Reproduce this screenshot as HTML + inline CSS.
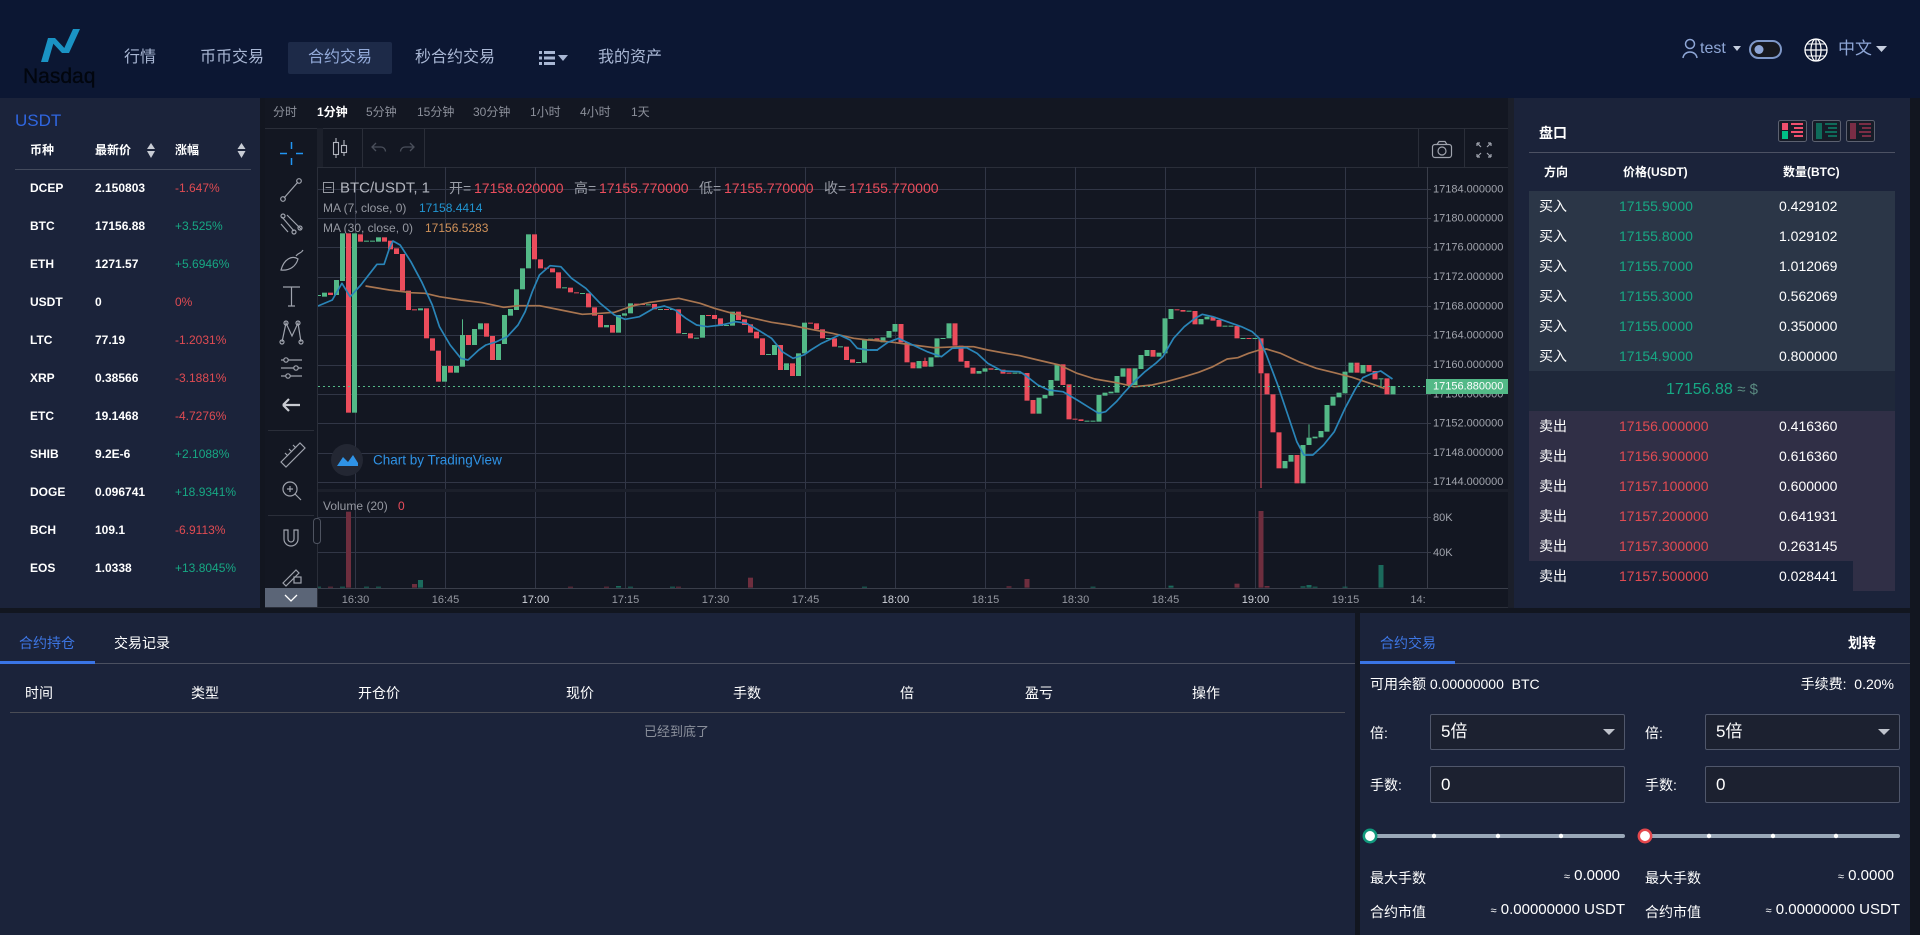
<!DOCTYPE html>
<html><head><meta charset="utf-8">
<style>
*{margin:0;padding:0;box-sizing:border-box}
html,body{width:1920px;height:935px;overflow:hidden;background:#121620;font-family:"Liberation Sans","Noto Sans CJK SC",sans-serif}
.a{position:absolute;white-space:nowrap}
.t{position:absolute;white-space:nowrap;height:20px;line-height:20px}
.nav{font-size:16px;color:#a9b7d4;top:48px}
.lp{font-size:12px;font-weight:bold;color:#fff}
.gr{color:#17a884}.rd{color:#e04b52}
.ob{font-size:14px}
.w{color:#fff}
svg text{font-family:"Liberation Sans","Noto Sans CJK SC",sans-serif}
.g{fill:#53b987}.r{fill:#eb4d5c}.vr{fill:#6e2e3e}.vg{fill:#1b6a5c}
</style></head><body>

<!-- header -->
<div class="a" style="left:0;top:0;width:1920px;height:98px;background:#0c1733"></div>
<svg class="a" style="left:0;top:0" width="100" height="98">
<polygon points="41,62 48,62 55,38 48,38" fill="#1a93c4"/>
<polygon points="48,38 55,38 69,53 62,53" fill="#1a93c4"/>
<polygon points="62,53 69,53 80,29 73,29" fill="#1a93c4"/>
</svg>
<div class="a" style="left:23px;top:65px;font-size:21px;line-height:24px;color:#02060e;font-weight:500;-webkit-text-stroke:0.3px #02060e">Nasdaq</div>
<div class="t nav" style="left:124px">行情</div>
<div class="t nav" style="left:200px">币币交易</div>
<div class="a" style="left:288px;top:42px;width:104px;height:32px;background:#1d2a48;border-radius:2px"></div>
<div class="t nav" style="left:308px;color:#93aad9">合约交易</div>
<div class="t nav" style="left:415px">秒合约交易</div>
<svg class="a" style="left:536px;top:48px" width="40" height="20">
<rect x="3" y="3" width="3" height="3" fill="#a9b7d4"/><rect x="8" y="3" width="11" height="3" fill="#a9b7d4"/>
<rect x="3" y="8.5" width="3" height="3" fill="#a9b7d4"/><rect x="8" y="8.5" width="11" height="3" fill="#a9b7d4"/>
<rect x="3" y="14" width="3" height="3" fill="#a9b7d4"/><rect x="8" y="14" width="11" height="3" fill="#a9b7d4"/>
<polygon points="22,7 32,7 27,13" fill="#a9b7d4"/>
</svg>
<div class="t nav" style="left:598px">我的资产</div>

<svg class="a" style="left:1680px;top:36px" width="220" height="30">
<circle cx="10" cy="8" r="4.5" fill="none" stroke="#8ea6d6" stroke-width="1.5"/>
<path d="M3 22 C4 14,16 14,17 22" fill="none" stroke="#8ea6d6" stroke-width="1.5"/>
<polygon points="53,10 61,10 57,15" fill="#c6cedf"/>
<rect x="70" y="5" width="31" height="17" rx="8.5" fill="#16181f" stroke="#7e97c7" stroke-width="2"/>
<circle cx="79" cy="13.5" r="4.5" fill="#8ea6d6"/>
<circle cx="136" cy="14" r="11" fill="none" stroke="#fff" stroke-width="1.3"/>
<ellipse cx="136" cy="14" rx="5" ry="11" fill="none" stroke="#fff" stroke-width="1.2"/>
<line x1="136" y1="3" x2="136" y2="25" stroke="#fff" stroke-width="1.2"/>
<line x1="125" y1="14" x2="147" y2="14" stroke="#fff" stroke-width="1.2"/>
<line x1="127" y1="8" x2="145" y2="8" stroke="#fff" stroke-width="1"/>
<line x1="127" y1="20" x2="145" y2="20" stroke="#fff" stroke-width="1"/>
<polygon points="196,10 207,10 201.5,16" fill="#c6cedf"/>
</svg>
<div class="t" style="left:1700px;top:39px;font-size:16px;color:#8ea6d6">test</div>
<div class="t" style="left:1838px;top:39px;font-size:17px;color:#8ea6d6">中文</div>

<!-- left panel -->
<div class="a" style="left:0;top:98px;width:260px;height:510px;background:#1b233a"></div>
<div class="t" style="left:15px;top:111px;font-size:17px;color:#2f66e0">USDT</div>
<div class="t lp" style="left:30px;top:140px">币种</div>
<div class="t lp" style="left:95px;top:140px">最新价</div>
<div class="t lp" style="left:175px;top:140px">涨幅</div>
<svg class="a" style="left:0;top:140px" width="260" height="22">
<polygon points="151,3 147,9 155,9" fill="#c8ccd4"/><polygon points="147,11 155,11 151,18" fill="#c8ccd4"/>
<polygon points="241.5,3 237.5,9 245.5,9" fill="#c8ccd4"/><polygon points="237.5,11 245.5,11 241.5,18" fill="#c8ccd4"/>
</svg>
<div class="a" style="left:15px;top:169px;width:236px;height:1px;background:#434a5c"></div>

<div class="t lp" style="left:30px;top:178px">DCEP</div><div class="t lp" style="left:95px;top:178px">2.150803</div><div class="t rd" style="left:175px;top:178px;font-size:12px">-1.647%</div>
<div class="t lp" style="left:30px;top:216px">BTC</div><div class="t lp" style="left:95px;top:216px">17156.88</div><div class="t gr" style="left:175px;top:216px;font-size:12px">+3.525%</div>
<div class="t lp" style="left:30px;top:254px">ETH</div><div class="t lp" style="left:95px;top:254px">1271.57</div><div class="t gr" style="left:175px;top:254px;font-size:12px">+5.6946%</div>
<div class="t lp" style="left:30px;top:292px">USDT</div><div class="t lp" style="left:95px;top:292px">0</div><div class="t rd" style="left:175px;top:292px;font-size:12px">0%</div>
<div class="t lp" style="left:30px;top:330px">LTC</div><div class="t lp" style="left:95px;top:330px">77.19</div><div class="t rd" style="left:175px;top:330px;font-size:12px">-1.2031%</div>
<div class="t lp" style="left:30px;top:368px">XRP</div><div class="t lp" style="left:95px;top:368px">0.38566</div><div class="t rd" style="left:175px;top:368px;font-size:12px">-3.1881%</div>
<div class="t lp" style="left:30px;top:406px">ETC</div><div class="t lp" style="left:95px;top:406px">19.1468</div><div class="t rd" style="left:175px;top:406px;font-size:12px">-4.7276%</div>
<div class="t lp" style="left:30px;top:444px">SHIB</div><div class="t lp" style="left:95px;top:444px">9.2E-6</div><div class="t gr" style="left:175px;top:444px;font-size:12px">+2.1088%</div>
<div class="t lp" style="left:30px;top:482px">DOGE</div><div class="t lp" style="left:95px;top:482px">0.096741</div><div class="t gr" style="left:175px;top:482px;font-size:12px">+18.9341%</div>
<div class="t lp" style="left:30px;top:520px">BCH</div><div class="t lp" style="left:95px;top:520px">109.1</div><div class="t rd" style="left:175px;top:520px;font-size:12px">-6.9113%</div>
<div class="t lp" style="left:30px;top:558px">EOS</div><div class="t lp" style="left:95px;top:558px">1.0338</div><div class="t gr" style="left:175px;top:558px;font-size:12px">+13.8045%</div>

<!-- chart widget bg -->
<div class="a" style="left:265px;top:98px;width:1243px;height:510px;background:#131722"></div>
<div class="a" style="left:1508px;top:98px;width:6px;height:510px;background:#1b1f2a"></div>

<!-- right panel -->
<div class="a" style="left:1514px;top:98px;width:396px;height:510px;background:#1b233a"></div>
<div class="t" style="left:1539px;top:123px;font-size:14px;font-weight:bold;color:#fff">盘口</div>
<svg class="a" style="left:1776px;top:118px" width="104" height="26">
<rect x="2.5" y="2.5" width="28" height="21" rx="2" fill="#171c28" stroke="#5c6170"/>
<rect x="6" y="5" width="6" height="7" fill="#f0506e"/><rect x="6" y="13" width="6" height="8" fill="#00c087"/>
<rect x="15" y="5" width="12" height="2" fill="#f0506e"/><rect x="18" y="9" width="9" height="2" fill="#f0506e"/><rect x="15" y="13" width="12" height="2" fill="#f0506e"/><rect x="18" y="17" width="9" height="2" fill="#f0506e"/>
<rect x="36.5" y="2.5" width="28" height="21" rx="2" fill="#171c28" stroke="#5c6170"/>
<rect x="40" y="5" width="6" height="16" fill="#0f6b5a"/>
<rect x="49" y="5" width="12" height="2" fill="#0f6b5a"/><rect x="52" y="9" width="9" height="2" fill="#0f6b5a"/><rect x="49" y="13" width="12" height="2" fill="#0f6b5a"/><rect x="52" y="17" width="9" height="2" fill="#0f6b5a"/>
<rect x="70.5" y="2.5" width="28" height="21" rx="2" fill="#171c28" stroke="#5c6170"/>
<rect x="74" y="5" width="6" height="16" fill="#7a2d45"/>
<rect x="83" y="5" width="12" height="2" fill="#7a2d45"/><rect x="86" y="9" width="9" height="2" fill="#7a2d45"/><rect x="83" y="13" width="12" height="2" fill="#7a2d45"/><rect x="86" y="17" width="9" height="2" fill="#7a2d45"/>
</svg>
<div class="a" style="left:1529px;top:152px;width:366px;height:1px;background:#4c5163"></div>
<div class="t" style="left:1544px;top:162px;font-size:12px;font-weight:bold;color:#fff">方向</div>
<div class="t" style="left:1623px;top:162px;font-size:12px;font-weight:bold;color:#fff">价格(USDT)</div>
<div class="t" style="left:1783px;top:162px;font-size:12px;font-weight:bold;color:#fff">数量(BTC)</div>
<div class="a" style="left:1529px;top:191px;width:366px;height:180px;background:#2b3647"></div>
<div class="a" style="left:1529px;top:371px;width:366px;height:40px;background:#1f283a"></div>
<div class="a" style="left:1529px;top:411px;width:366px;height:150px;background:#302f46"></div>
<div class="a" style="left:1853px;top:561px;width:42px;height:30px;background:#302f46"></div>

<div class="t ob w" style="left:1539px;top:196px">买入</div><div class="t ob gr" style="left:1619px;top:196px">17155.9000</div><div class="t ob w" style="left:1779px;top:196px">0.429102</div>
<div class="t ob w" style="left:1539px;top:226px">买入</div><div class="t ob gr" style="left:1619px;top:226px">17155.8000</div><div class="t ob w" style="left:1779px;top:226px">1.029102</div>
<div class="t ob w" style="left:1539px;top:256px">买入</div><div class="t ob gr" style="left:1619px;top:256px">17155.7000</div><div class="t ob w" style="left:1779px;top:256px">1.012069</div>
<div class="t ob w" style="left:1539px;top:286px">买入</div><div class="t ob gr" style="left:1619px;top:286px">17155.3000</div><div class="t ob w" style="left:1779px;top:286px">0.562069</div>
<div class="t ob w" style="left:1539px;top:316px">买入</div><div class="t ob gr" style="left:1619px;top:316px">17155.0000</div><div class="t ob w" style="left:1779px;top:316px">0.350000</div>
<div class="t ob w" style="left:1539px;top:346px">买入</div><div class="t ob gr" style="left:1619px;top:346px">17154.9000</div><div class="t ob w" style="left:1779px;top:346px">0.800000</div>
<div class="t" style="left:1529px;width:366px;top:379px;height:22px;line-height:22px;text-align:center;font-size:16px;color:#17a884">17156.88 <span style="color:#5a8a80;font-size:15px">≈ $</span></div>
<div class="t ob w" style="left:1539px;top:416px">卖出</div><div class="t ob rd" style="left:1619px;top:416px">17156.000000</div><div class="t ob w" style="left:1779px;top:416px">0.416360</div>
<div class="t ob w" style="left:1539px;top:446px">卖出</div><div class="t ob rd" style="left:1619px;top:446px">17156.900000</div><div class="t ob w" style="left:1779px;top:446px">0.616360</div>
<div class="t ob w" style="left:1539px;top:476px">卖出</div><div class="t ob rd" style="left:1619px;top:476px">17157.100000</div><div class="t ob w" style="left:1779px;top:476px">0.600000</div>
<div class="t ob w" style="left:1539px;top:506px">卖出</div><div class="t ob rd" style="left:1619px;top:506px">17157.200000</div><div class="t ob w" style="left:1779px;top:506px">0.641931</div>
<div class="t ob w" style="left:1539px;top:536px">卖出</div><div class="t ob rd" style="left:1619px;top:536px">17157.300000</div><div class="t ob w" style="left:1779px;top:536px">0.263145</div>
<div class="t ob w" style="left:1539px;top:566px">卖出</div><div class="t ob rd" style="left:1619px;top:566px">17157.500000</div><div class="t ob w" style="left:1779px;top:566px">0.028441</div>

<!-- bottom left -->
<div class="a" style="left:0;top:613px;width:1355px;height:322px;background:#1b233a"></div>
<div class="t" style="left:19px;top:633px;font-size:14px;color:#3d76e3">合约持仓</div>
<div class="t" style="left:114px;top:633px;font-size:14px;color:#fff">交易记录</div>
<div class="a" style="left:0;top:663px;width:1355px;height:1px;background:#4b5060"></div>
<div class="a" style="left:0;top:661px;width:95px;height:3px;background:#3a75e6"></div>
<div class="t" style="left:25px;top:683px;font-size:14px;color:#fff">时间</div>
<div class="t" style="left:191px;top:683px;font-size:14px;color:#fff">类型</div>
<div class="t" style="left:358px;top:683px;font-size:14px;color:#fff">开仓价</div>
<div class="t" style="left:566px;top:683px;font-size:14px;color:#fff">现价</div>
<div class="t" style="left:733px;top:683px;font-size:14px;color:#fff">手数</div>
<div class="t" style="left:900px;top:683px;font-size:14px;color:#fff">倍</div>
<div class="t" style="left:1025px;top:683px;font-size:14px;color:#fff">盈亏</div>
<div class="t" style="left:1192px;top:683px;font-size:14px;color:#fff">操作</div>
<div class="a" style="left:10px;top:712px;width:1335px;height:1px;background:#4a4c55"></div>
<div class="t" style="left:644px;top:722px;font-size:13px;color:#8b909c">已经到底了</div>

<!-- bottom right -->
<div class="a" style="left:1360px;top:613px;width:550px;height:322px;background:#1b233a"></div>
<div class="t" style="left:1380px;top:633px;font-size:14px;color:#3d76e3">合约交易</div>
<div class="t" style="left:1848px;top:633px;font-size:14px;font-weight:bold;color:#fff">划转</div>
<div class="a" style="left:1360px;top:663px;width:550px;height:1px;background:#4b5060"></div>
<div class="a" style="left:1360px;top:661px;width:95px;height:3px;background:#3a75e6"></div>
<div class="t" style="left:1370px;top:674px;font-size:14px;color:#fff">可用余额 0.00000000 &nbsp;BTC</div>
<div class="t" style="right:26px;top:674px;font-size:14px;color:#fff">手续费: &nbsp;0.20%</div>

<div class="t" style="left:1370px;top:723px;font-size:14px;color:#fff">倍:</div>
<div class="a" style="left:1430px;top:714px;width:195px;height:36px;border:1px solid #50576b;background:#1c2130;border-radius:2px;font-size:17px;color:#fff;line-height:34px;padding-left:10px">5倍</div>
<div class="t" style="left:1645px;top:723px;font-size:14px;color:#fff">倍:</div>
<div class="a" style="left:1705px;top:714px;width:195px;height:36px;border:1px solid #50576b;background:#1c2130;border-radius:2px;font-size:17px;color:#fff;line-height:34px;padding-left:10px">5倍</div>
<svg class="a" style="left:0;top:0;pointer-events:none" width="1920" height="935">
<polygon points="1603,729 1615,729 1609,735" fill="#bfc3cc"/>
<polygon points="1878,729 1890,729 1884,735" fill="#bfc3cc"/>
</svg>
<div class="t" style="left:1370px;top:775px;font-size:14px;color:#fff">手数:</div>
<div class="a" style="left:1430px;top:766px;width:195px;height:37px;border:1px solid #50576b;background:#1c2130;border-radius:2px;font-size:17px;color:#fff;line-height:35px;padding-left:10px">0</div>
<div class="t" style="left:1645px;top:775px;font-size:14px;color:#fff">手数:</div>
<div class="a" style="left:1705px;top:766px;width:195px;height:37px;border:1px solid #50576b;background:#1c2130;border-radius:2px;font-size:17px;color:#fff;line-height:35px;padding-left:10px">0</div>

<div class="a" style="left:1370px;top:834px;width:255px;height:4px;background:#9aa8b8;border-radius:2px"></div>
<div class="a" style="left:1645px;top:834px;width:255px;height:4px;background:#9aa8b8;border-radius:2px"></div>
<svg class="a" style="left:0;top:0;pointer-events:none" width="1920" height="935">
<circle cx="1434" cy="836" r="2.2" fill="#fff"/><circle cx="1498" cy="836" r="2.2" fill="#fff"/><circle cx="1561" cy="836" r="2.2" fill="#fff"/>
<circle cx="1709" cy="836" r="2.2" fill="#fff"/><circle cx="1773" cy="836" r="2.2" fill="#fff"/><circle cx="1836" cy="836" r="2.2" fill="#fff"/>
<circle cx="1370" cy="836" r="6.2" fill="#fff" stroke="#11997d" stroke-width="2.5"/>
<circle cx="1645" cy="836" r="6.2" fill="#fff" stroke="#e5484d" stroke-width="2.5"/>
</svg>
<div class="t" style="left:1370px;top:868px;font-size:14px;color:#fff">最大手数</div>
<div class="t" style="right:300px;top:866px;font-size:15px;color:#fff"><span style="font-size:11px">≈</span> 0.0000</div>
<div class="t" style="left:1370px;top:902px;font-size:14px;color:#fff">合约市值</div>
<div class="t" style="right:295px;top:900px;font-size:15px;color:#fff"><span style="font-size:11px">≈</span> 0.00000000 USDT</div>
<div class="t" style="left:1645px;top:868px;font-size:14px;color:#fff">最大手数</div>
<div class="t" style="right:26px;top:866px;font-size:15px;color:#fff"><span style="font-size:11px">≈</span> 0.0000</div>
<div class="t" style="left:1645px;top:902px;font-size:14px;color:#fff">合约市值</div>
<div class="t" style="right:20px;top:900px;font-size:15px;color:#fff"><span style="font-size:11px">≈</span> 0.00000000 USDT</div>

<!-- CHART -->
<svg class="a" style="left:0;top:0" width="1920" height="935">
<defs>
<clipPath id="mp"><rect x="318" y="167" width="1109" height="321"/></clipPath>
<clipPath id="vp"><rect x="318" y="492" width="1109" height="96"/></clipPath>
</defs>
<!-- tab row -->
<g font-size="12" fill="#8c909b">
<text x="273" y="116">分时</text>
<text x="317" y="116" fill="#ffffff" font-weight="bold">1分钟</text>
<text x="366" y="116">5分钟</text>
<text x="417" y="116">15分钟</text>
<text x="473" y="116">30分钟</text>
<text x="530" y="116">1小时</text>
<text x="580" y="116">4小时</text>
<text x="631" y="116">1天</text>
</g>
<line x1="265" y1="128.5" x2="1508" y2="128.5" stroke="#2a2e39"/>
<!-- left toolbar -->
<line x1="317.5" y1="128" x2="317.5" y2="608" stroke="#2a2e39"/>
<rect x="317" y="128" width="6" height="39" fill="#1c202b"/>
<g stroke="#2196f3" stroke-width="1.5"><path d="M280 153.5H287M296 153.5H303M291.5 142V149M291.5 158V165"/></g>
<g stroke="#9fa3ad" stroke-width="1.2" fill="none">
<path d="M284 198L298 182"/><circle cx="283" cy="199" r="2.3"/><circle cx="299" cy="181" r="2.3"/>
<path d="M282 217L294 231M287 215L301 229M281 224L288 232"/><circle cx="283" cy="216" r="2"/><circle cx="294" cy="232" r="2"/><circle cx="300" cy="228" r="2"/>
<path d="M281 270C284 259,292 255,298 259C296 266,290 271,281 270Z"/><path d="M296 256C299 252,301 254,303 250"/>
<path d="M283 287H300M291.5 287V306M288 306H295"/>
<path d="M282 342L286 323L292 336L298 323L301 342"/><circle cx="282" cy="342" r="2"/><circle cx="286" cy="323" r="2"/><circle cx="298" cy="323" r="2"/><circle cx="301" cy="342" r="2"/>
<path d="M281 360H302M281 368H302M281 376H302"/><circle cx="286" cy="360" r="2.2" fill="#131722"/><circle cx="296" cy="368" r="2.2" fill="#131722"/><circle cx="288" cy="376" r="2.2" fill="#131722"/>
<path d="M281 462L300 443L305 448L286 467Z M285 453L288 456M289 449L292 452M293 445L296 448"/>
<circle cx="290" cy="489" r="7"/><path d="M295 494L301 500M287 489H293M290 486V492"/>
<path d="M284 530V539A7 7 0 0 0 298 539V530H294V539A3 3 0 0 1 288 539V530Z"/>
<path d="M283 583L296 570L299 573L286 586Z"/><rect x="294" y="577" width="7" height="6"/>
</g>
<path d="M283 405H300M283 405L289 399M283 405L289 411" stroke="#c8cbd1" stroke-width="2.2" fill="none"/>
<line x1="268" y1="430.5" x2="314" y2="430.5" stroke="#2a2e39"/>
<line x1="268" y1="515.5" x2="314" y2="515.5" stroke="#2a2e39"/>
<rect x="265" y="588" width="52" height="20" fill="#5b6577"/>
<path d="M285 595L291 601L297 595" stroke="#fff" stroke-width="1.3" fill="none"/>
<!-- top toolbar -->
<line x1="318" y1="167.5" x2="1508" y2="167.5" stroke="#2a2e39"/>
<line x1="362.5" y1="128" x2="362.5" y2="167" stroke="#2a2e39"/>
<line x1="424.5" y1="128" x2="424.5" y2="167" stroke="#2a2e39"/>
<line x1="1418.5" y1="128" x2="1418.5" y2="167" stroke="#2a2e39"/>
<line x1="1464.5" y1="128" x2="1464.5" y2="167" stroke="#2a2e39"/>
<g stroke="#b2b5be" fill="none" stroke-width="1.1">
<path d="M336 138V158M344 140V156"/><rect x="333.5" y="142.5" width="5" height="12" fill="#131722"/><rect x="341.5" y="145.5" width="5" height="7" fill="#131722"/>
</g>
<g stroke="#4a4f5b" fill="none" stroke-width="1.3">
<path d="M376 143L372 147L376 151M372 147H381A4.5 4.5 0 0 1 385.5 151.5"/>
<path d="M410 143L414 147L410 151M414 147H405A4.5 4.5 0 0 0 400.5 151.5"/>
</g>
<g stroke="#9fa3ad" fill="none" stroke-width="1.2">
<rect x="1432.5" y="144.5" width="19" height="13" rx="2.5"/><path d="M1437 144.5L1439 141.5H1445L1447 144.5"/><circle cx="1442" cy="151" r="4"/>
<path d="M1477 143L1481 147M1477 143V146M1477 143H1480M1491 143L1487 147M1491 143V146M1491 143H1488M1477 157L1481 153M1477 157V154M1477 157H1480M1491 157L1487 153M1491 157V154M1491 157H1488"/>
</g>
<!-- grid -->
<g stroke="#313646" stroke-width="1">
<path d="M355.5 167V588M445.5 167V588M535.5 167V588M625.5 167V588M715.5 167V588M805.5 167V588M895.5 167V588M985.5 167V588M1075.5 167V588M1165.5 167V588M1255.5 167V588M1345.5 167V588"/>
<path d="M318 189.5H1427M318 218.5H1427M318 247.5H1427M318 277.5H1427M318 306.5H1427M318 335.5H1427M318 365.5H1427M318 394.5H1427M318 423.5H1427M318 453.5H1427M318 482.5H1427M318 517.5H1427M318 552.5H1427"/>
</g>
<rect x="318" y="489" width="1190" height="3" fill="#1c202b"/>
<line x1="1427.5" y1="167" x2="1427.5" y2="588" stroke="#3a3e4a"/>
<line x1="318" y1="588.5" x2="1508" y2="588.5" stroke="#3a3e4a"/>
<line x1="265" y1="607.5" x2="1508" y2="607.5" stroke="#2a2e39"/>
<path d="M1427 189.5h4M1427 218.5h4M1427 247.5h4M1427 277.5h4M1427 306.5h4M1427 335.5h4M1427 365.5h4M1427 394.5h4M1427 423.5h4M1427 453.5h4M1427 482.5h4M1427 517.5h4M1427 552.5h4" stroke="#3a3e4a"/>
<g font-size="11" fill="#a1a4ad" dominant-baseline="central">
<text x="1433" y="189.5">17184.000000</text>
<text x="1433" y="218.5">17180.000000</text>
<text x="1433" y="247.5">17176.000000</text>
<text x="1433" y="277">17172.000000</text>
<text x="1433" y="306.5">17168.000000</text>
<text x="1433" y="335.5">17164.000000</text>
<text x="1433" y="365">17160.000000</text>
<text x="1433" y="394.5">17156.000000</text>
<text x="1433" y="423.5">17152.000000</text>
<text x="1433" y="453">17148.000000</text>
<text x="1433" y="482">17144.000000</text>
<text x="1433" y="518">80K</text>
<text x="1433" y="553">40K</text>
</g>
<g font-size="11" fill="#9598a1" text-anchor="middle" dominant-baseline="central">
<text x="355.5" y="600">16:30</text><text x="445.5" y="600">16:45</text><text x="535.5" y="600" fill="#d1d4dc">17:00</text><text x="625.5" y="600">17:15</text><text x="715.5" y="600">17:30</text><text x="805.5" y="600">17:45</text><text x="895.5" y="600" fill="#d1d4dc">18:00</text><text x="985.5" y="600">18:15</text><text x="1075.5" y="600">18:30</text><text x="1165.5" y="600">18:45</text><text x="1255.5" y="600" fill="#d1d4dc">19:00</text><text x="1345.5" y="600">19:15</text>
<text x="1418" y="600">14:</text>
</g>
<!-- watermark -->
<circle cx="347" cy="460" r="16" fill="#232733"/>
<path d="M337 466L343 457L348 462L353 455L358 463V466Z" fill="#2f93e6"/>
<text x="373" y="460" font-size="13.5" fill="#2f93e6" dominant-baseline="central">Chart by TradingView</text>
<!-- legend -->
<rect x="323.5" y="182.5" width="10" height="10" fill="none" stroke="#9598a1"/>
<line x1="325.5" y1="187.5" x2="331.5" y2="187.5" stroke="#9598a1"/>
<g dominant-baseline="central">
<text x="340" y="188" font-size="15" fill="#b2b5be">BTC/USDT, 1</text>
<text x="449" y="188" font-size="14" fill="#9a9ea8">开=</text><text x="474" y="188" font-size="14" fill="#eb4d5c">17158.020000</text>
<text x="574" y="188" font-size="14" fill="#9a9ea8">高=</text><text x="599" y="188" font-size="14" fill="#eb4d5c">17155.770000</text>
<text x="699" y="188" font-size="14" fill="#9a9ea8">低=</text><text x="724" y="188" font-size="14" fill="#eb4d5c">17155.770000</text>
<text x="824" y="188" font-size="14" fill="#9a9ea8">收=</text><text x="849" y="188" font-size="14" fill="#eb4d5c">17155.770000</text>
<text x="323" y="208" font-size="12" fill="#9598a1">MA (7, close, 0)</text><text x="419" y="208" font-size="12" fill="#2196d3">17158.4414</text>
<text x="323" y="228" font-size="12" fill="#9598a1">MA (30, close, 0)</text><text x="425" y="228" font-size="12" fill="#d0925a">17156.5283</text>
<text x="323" y="506" font-size="12" fill="#9598a1">Volume (20)</text><text x="398" y="506" font-size="12" fill="#eb4d5c">0</text>
</g>
<rect x="313.5" y="518.5" width="7" height="25" rx="3" fill="#131722" stroke="#4e5360"/>

<!-- candles part 1 -->
<g clip-path="url(#mp)"><g transform="translate(318.5 225) scale(1 0.333333)">
<rect class="g" x="-2.5" y="210" width="5" height="3"/>
<rect class="g" x="3.5" y="203" width="5" height="12"/>
<rect class="r" x="9.5" y="203" width="5" height="7"/>
<rect class="g" x="15.5" y="165" width="5" height="45"/>
<rect class="g" x="21.5" y="25" width="5" height="143"/>
<rect class="r" x="27.5" y="25" width="5" height="538"/>
<rect class="g" x="33.5" y="25" width="5" height="538"/>
<rect class="r" x="39.5" y="28" width="5" height="22"/>
<rect class="g" x="45.5" y="47" width="5" height="3"/>
<rect class="g" x="51.5" y="47" width="5" height="3"/>
<rect class="g" x="57.5" y="37" width="5" height="13"/>
<rect class="r" x="63.5" y="37" width="5" height="13"/>
<rect class="r" x="69.5" y="47" width="5" height="26"/>
<rect class="r" x="75.5" y="70" width="5" height="17"/>
<rect class="r" x="81.5" y="87" width="5" height="110"/>
<rect class="r" x="87.5" y="197" width="5" height="58"/>
<rect class="r" x="93.5" y="253" width="5" height="3"/>
<rect class="g" x="99.5" y="250" width="5" height="6"/>
<rect class="r" x="105.5" y="250" width="5" height="90"/>
<rect class="r" x="111.5" y="340" width="5" height="37"/>
<rect class="r" x="117.5" y="377" width="5" height="93"/>
<rect class="g" x="123.5" y="423" width="5" height="47"/>
<rect class="r" x="129.5" y="423" width="5" height="20"/>
<rect class="g" x="135.5" y="423" width="5" height="20"/>
<rect class="g" x="143.5" y="283" width="1" height="47"/>
<rect class="g" x="141.5" y="330" width="5" height="95"/>
<rect class="r" x="147.5" y="330" width="5" height="30"/>
<rect class="g" x="153.5" y="312" width="5" height="48"/>
<rect class="g" x="159.5" y="295" width="5" height="18"/>
<rect class="r" x="165.5" y="295" width="5" height="40"/>
<rect class="r" x="171.5" y="333" width="5" height="72"/>
<rect class="g" x="177.5" y="357" width="5" height="48"/>
<rect class="g" x="183.5" y="270" width="5" height="87"/>
<rect class="g" x="189.5" y="252" width="5" height="20"/>
<rect class="g" x="195.5" y="193" width="5" height="62"/>
<rect class="g" x="201.5" y="130" width="5" height="63"/>
<rect class="g" x="207.5" y="28" width="5" height="102"/>
<rect class="r" x="213.5" y="28" width="5" height="75"/>
<rect class="r" x="219.5" y="103" width="5" height="27"/>
<rect class="r" x="225.5" y="128" width="5" height="3"/>
<rect class="r" x="231.5" y="130" width="5" height="12"/>
<rect class="r" x="237.5" y="142" width="5" height="48"/>
<rect class="g" x="243.5" y="187" width="5" height="3"/>
<rect class="r" x="249.5" y="188" width="5" height="14"/>
<rect class="r" x="255.5" y="202" width="5" height="3"/>
<rect class="g" x="261.5" y="204" width="5" height="3"/>
<rect class="r" x="267.5" y="205" width="5" height="42"/>
<rect class="r" x="273.5" y="247" width="5" height="25"/>
<rect class="r" x="279.5" y="270" width="5" height="37"/>
<rect class="g" x="285.5" y="300" width="5" height="7"/>
<rect class="r" x="291.5" y="300" width="5" height="23"/>
<rect class="g" x="297.5" y="270" width="5" height="53"/>
<rect class="g" x="303.5" y="265" width="5" height="7"/>
<rect class="g" x="309.5" y="235" width="5" height="30"/>
<rect class="r" x="315.5" y="236" width="5" height="3"/>
<rect class="r" x="321.5" y="237" width="5" height="3"/>
<rect class="g" x="327.5" y="238" width="5" height="3"/>
<rect class="r" x="333.5" y="237" width="5" height="16"/>
<rect class="g" x="339.5" y="252" width="5" height="3"/>
<rect class="r" x="345.5" y="252" width="5" height="3"/>
<rect class="g" x="351.5" y="252" width="5" height="3"/>
<rect class="r" x="357.5" y="253" width="5" height="72"/>
<rect class="g" x="363.5" y="324" width="5" height="3"/>
<rect class="r" x="369.5" y="325" width="5" height="15"/>
<rect class="g" x="375.5" y="338" width="5" height="3"/>
<rect class="g" x="381.5" y="270" width="5" height="68"/>
<rect class="r" x="387.5" y="270" width="5" height="3"/>
<rect class="r" x="393.5" y="270" width="5" height="12"/>
<rect class="r" x="399.5" y="280" width="5" height="23"/>
<rect class="g" x="405.5" y="300" width="5" height="3"/>
<rect class="g" x="411.5" y="260" width="5" height="42"/>
<rect class="r" x="417.5" y="260" width="5" height="25"/>
<rect class="r" x="423.5" y="283" width="5" height="17"/>
<rect class="r" x="429.5" y="298" width="5" height="25"/>
<rect class="r" x="435.5" y="320" width="5" height="20"/>
<rect class="r" x="441.5" y="340" width="5" height="50"/>
<rect class="g" x="447.5" y="387" width="5" height="3"/>
<rect class="g" x="453.5" y="360" width="5" height="30"/>
<rect class="r" x="459.5" y="360" width="5" height="75"/>
<rect class="g" x="465.5" y="415" width="5" height="20"/>
<rect class="r" x="471.5" y="415" width="5" height="38"/>
<rect class="g" x="477.5" y="385" width="5" height="68"/>
<rect class="g" x="483.5" y="293" width="5" height="92"/>
<rect class="r" x="489.5" y="293" width="5" height="3"/>
<rect class="r" x="495.5" y="295" width="5" height="18"/>
<rect class="r" x="501.5" y="313" width="5" height="27"/>
<rect class="g" x="507.5" y="339" width="5" height="3"/>
<rect class="r" x="513.5" y="340" width="5" height="25"/>
<rect class="g" x="519.5" y="364" width="5" height="3"/>
<rect class="r" x="525.5" y="365" width="5" height="40"/>
<rect class="r" x="531.5" y="403" width="5" height="10"/>
<rect class="g" x="537.5" y="411" width="5" height="3"/>
<rect class="g" x="543.5" y="345" width="5" height="68"/>
<rect class="g" x="549.5" y="341" width="5" height="3"/>
</g>
<!-- candles part 2 -->
<g transform="translate(871 225) scale(1 0.333333)">
<rect class="r" x="3.5" y="340" width="5" height="8"/>
<rect class="g" x="9.5" y="337" width="5" height="15"/>
<rect class="g" x="15.5" y="318" width="5" height="20"/>
<rect class="g" x="21.5" y="297" width="5" height="23"/>
<rect class="r" x="27.5" y="297" width="5" height="55"/>
<rect class="r" x="33.5" y="352" width="5" height="60"/>
<rect class="r" x="39.5" y="412" width="5" height="18"/>
<rect class="g" x="45.5" y="408" width="5" height="22"/>
<rect class="r" x="53.5" y="398" width="1" height="10"/>
<rect class="r" x="51.5" y="408" width="5" height="17"/>
<rect class="g" x="57.5" y="397" width="5" height="28"/>
<rect class="g" x="63.5" y="340" width="5" height="57"/>
<rect class="g" x="69.5" y="339" width="5" height="3"/>
<rect class="g" x="75.5" y="295" width="5" height="45"/>
<rect class="r" x="81.5" y="295" width="5" height="67"/>
<rect class="r" x="87.5" y="362" width="5" height="48"/>
<rect class="r" x="93.5" y="408" width="5" height="20"/>
<rect class="r" x="99.5" y="428" width="5" height="18"/>
<rect class="g" x="105.5" y="438" width="5" height="8"/>
<rect class="g" x="111.5" y="430" width="5" height="10"/>
<rect class="r" x="117.5" y="430" width="5" height="4"/>
<rect class="g" x="123.5" y="432" width="5" height="3"/>
<rect class="r" x="129.5" y="434" width="5" height="12"/>
<rect class="r" x="135.5" y="443" width="5" height="3"/>
<rect class="g" x="141.5" y="443" width="5" height="3"/>
<rect class="g" x="147.5" y="443" width="5" height="3"/>
<rect class="r" x="153.5" y="444" width="5" height="83"/>
<rect class="r" x="159.5" y="525" width="5" height="41"/>
<rect class="g" x="165.5" y="518" width="5" height="48"/>
<rect class="g" x="171.5" y="510" width="5" height="10"/>
<rect class="g" x="177.5" y="465" width="5" height="47"/>
<rect class="g" x="183.5" y="418" width="5" height="49"/>
<rect class="r" x="189.5" y="418" width="5" height="62"/>
<rect class="r" x="195.5" y="478" width="5" height="105"/>
<rect class="r" x="201.5" y="581" width="5" height="3"/>
<rect class="r" x="207.5" y="583" width="5" height="5"/>
<rect class="g" x="213.5" y="587" width="5" height="3"/>
<rect class="g" x="219.5" y="587" width="5" height="3"/>
<rect class="g" x="225.5" y="510" width="5" height="80"/>
<rect class="g" x="231.5" y="503" width="5" height="9"/>
<rect class="g" x="237.5" y="500" width="5" height="5"/>
<rect class="g" x="243.5" y="453" width="5" height="50"/>
<rect class="g" x="249.5" y="430" width="5" height="25"/>
<rect class="r" x="255.5" y="430" width="5" height="50"/>
<rect class="g" x="261.5" y="430" width="5" height="50"/>
<rect class="g" x="267.5" y="390" width="5" height="42"/>
<rect class="g" x="273.5" y="375" width="5" height="18"/>
<rect class="r" x="279.5" y="375" width="5" height="20"/>
<rect class="g" x="285.5" y="383" width="5" height="12"/>
<rect class="g" x="291.5" y="280" width="5" height="105"/>
<rect class="g" x="297.5" y="252" width="5" height="30"/>
<rect class="r" x="303.5" y="253" width="5" height="3"/>
<rect class="r" x="309.5" y="255" width="5" height="5"/>
<rect class="g" x="315.5" y="257" width="5" height="3"/>
<rect class="r" x="321.5" y="258" width="5" height="40"/>
<rect class="g" x="327.5" y="282" width="5" height="16"/>
<rect class="g" x="333.5" y="275" width="5" height="8"/>
<rect class="r" x="339.5" y="275" width="5" height="12"/>
<rect class="r" x="345.5" y="285" width="5" height="20"/>
<rect class="g" x="351.5" y="302" width="5" height="3"/>
<rect class="g" x="357.5" y="302" width="5" height="3"/>
<rect class="r" x="363.5" y="303" width="5" height="37"/>
<rect class="g" x="369.5" y="339" width="5" height="3"/>
<rect class="r" x="375.5" y="339" width="5" height="3"/>
<rect class="g" x="381.5" y="339" width="5" height="3"/>
<rect class="r" x="389.5" y="445" width="1" height="345"/>
<rect class="r" x="387.5" y="340" width="5" height="105"/>
<rect class="r" x="393.5" y="445" width="5" height="63"/>
<rect class="r" x="399.5" y="508" width="5" height="114"/>
<rect class="r" x="405.5" y="622" width="5" height="108"/>
<rect class="g" x="411.5" y="708" width="5" height="22"/>
<rect class="g" x="417.5" y="690" width="5" height="20"/>
<rect class="r" x="423.5" y="690" width="5" height="85"/>
<rect class="g" x="429.5" y="660" width="5" height="115"/>
<rect class="g" x="437.5" y="598" width="1" height="40"/>
<rect class="g" x="435.5" y="638" width="5" height="22"/>
<rect class="g" x="441.5" y="635" width="5" height="5"/>
<rect class="g" x="447.5" y="618" width="5" height="19"/>
<rect class="g" x="453.5" y="540" width="5" height="80"/>
<rect class="g" x="459.5" y="515" width="5" height="27"/>
<rect class="g" x="465.5" y="503" width="5" height="14"/>
<rect class="g" x="471.5" y="440" width="5" height="65"/>
<rect class="g" x="477.5" y="413" width="5" height="30"/>
<rect class="r" x="483.5" y="413" width="5" height="30"/>
<rect class="g" x="489.5" y="420" width="5" height="25"/>
<rect class="r" x="495.5" y="420" width="5" height="20"/>
<rect class="r" x="501.5" y="438" width="5" height="25"/>
<rect class="g" x="509.5" y="463" width="1" height="27"/>
<rect class="g" x="507.5" y="460" width="5" height="3"/>
<rect class="r" x="513.5" y="460" width="5" height="48"/>
<rect class="g" x="519.5" y="483" width="5" height="25"/>
</g>
<!-- MAs -->
<g fill="none" stroke-width="1.7" stroke-linejoin="round">
<polyline vector-effect="non-scaling-stroke" stroke="#a87550" transform="translate(318 225) scale(0.357143 0.333333)" points="133,183 200,195 260,203 300,205 340,215 400,225 460,233 520,247 560,242 620,242 680,255 740,268 790,265 830,262 880,243 930,232 1010,220 1070,235 1110,250 1160,265 1220,280 1270,292 1320,300 1380,313 1440,325 1500,340 1540,345 1568,345"/>
<polyline vector-effect="non-scaling-stroke" stroke="#a87550" transform="translate(870 225) scale(0.357143 0.333333)" points="0,345 50,350 120,360 180,368 250,365 290,365 330,375 380,385 420,392 470,405 530,420 580,445 630,462 690,473 740,485 790,480 830,470 880,455 920,442 960,425 1000,402 1030,398 1060,385 1090,375 1110,372 1150,385 1200,410 1250,430 1300,443 1350,457 1400,475 1440,490"/>
<polyline vector-effect="non-scaling-stroke" stroke="#2a85b8" transform="translate(318 225) scale(0.357143 0.333333)" points="0,243 40,225 67,175 90,215 120,180 165,118 185,118 200,70 210,48 230,60 260,110 290,170 320,240 340,305 370,360 400,400 420,405 450,375 470,360 500,350 530,335 560,300 580,260 600,200 620,150 650,122 680,125 710,160 750,190 790,235 830,270 860,283 900,275 940,250 970,243 1000,255 1030,280 1060,300 1090,305 1130,300 1170,290 1200,295 1240,320 1270,340 1300,380 1330,400 1360,390 1380,375 1410,355 1460,330 1490,345 1510,370 1540,375 1568,375"/>
<polyline vector-effect="non-scaling-stroke" stroke="#2a85b8" transform="translate(870 225) scale(0.357143 0.333333)" points="0,375 20,375 50,352 80,340 120,360 160,380 200,395 230,370 270,368 300,385 330,415 370,438 420,440 440,455 470,480 500,495 540,500 580,525 610,545 640,565 660,560 690,530 710,505 740,470 770,440 800,415 820,395 850,340 880,305 910,280 930,268 960,275 1000,290 1040,305 1070,320 1090,340 1110,390 1140,475 1170,570 1195,650 1215,690 1240,690 1270,660 1300,620 1330,550 1360,490 1380,458 1400,448 1430,438 1463,462"/>
</g>
</g>
<!-- volume -->
<g clip-path="url(#vp)">
<g transform="translate(318.5 225) scale(1 0.333333)">
<rect class="vr" x="27.5" y="860" width="5" height="228"/>
<rect class="vr" x="93.5" y="1077" width="5" height="11"/>
<rect class="vg" x="99.5" y="1065" width="5" height="23"/>
<rect class="vr" x="429.5" y="1058" width="5" height="30"/>
<rect class="vg" x="-2.5" y="1085" width="5" height="3"/><rect class="vr" x="9.5" y="1085" width="5" height="3"/><rect class="vg" x="21.5" y="1085" width="5" height="3"/><rect class="vg" x="45.5" y="1085" width="5" height="3"/><rect class="vg" x="57.5" y="1085" width="5" height="3"/><rect class="vr" x="249.5" y="1085" width="5" height="3"/><rect class="vr" x="285.5" y="1085" width="5" height="3"/><rect class="vg" x="297.5" y="1083" width="5" height="5"/><rect class="vg" x="309.5" y="1085" width="5" height="3"/><rect class="vg" x="351.5" y="1085" width="5" height="3"/><rect class="vr" x="357.5" y="1085" width="5" height="3"/><rect class="vg" x="543.5" y="1085" width="5" height="3"/>
</g>
<g transform="translate(871 225) scale(1 0.333333)">
<rect class="vr" x="135.5" y="1084" width="5" height="4"/>
<rect class="vr" x="153.5" y="1062" width="5" height="26"/>
<rect class="vg" x="219.5" y="1085" width="5" height="3"/>
<rect class="vg" x="297.5" y="1082" width="5" height="6"/>
<rect class="vr" x="363.5" y="1076" width="5" height="12"/>
<rect class="vr" x="387.5" y="858" width="5" height="230"/>
<rect class="vr" x="393.5" y="1083" width="5" height="5"/>
<rect class="vg" x="429.5" y="1084" width="5" height="4"/>
<rect class="vg" x="435.5" y="1080" width="5" height="8"/>
<rect class="vg" x="441.5" y="1085" width="5" height="3"/>
<rect class="vg" x="471.5" y="1085" width="5" height="3"/>
<rect class="vg" x="507.5" y="1020" width="5" height="68"/>
</g>
</g>
<!-- current price -->
<line x1="318" y1="386.5" x2="1427" y2="386.5" stroke="#53b987" stroke-dasharray="2 3"/>
<rect x="1426" y="379" width="82" height="15" fill="#53b987"/>
<text x="1433" y="386.5" font-size="11" fill="#ffffff" dominant-baseline="central">17156.880000</text>
</svg>
</body></html>
